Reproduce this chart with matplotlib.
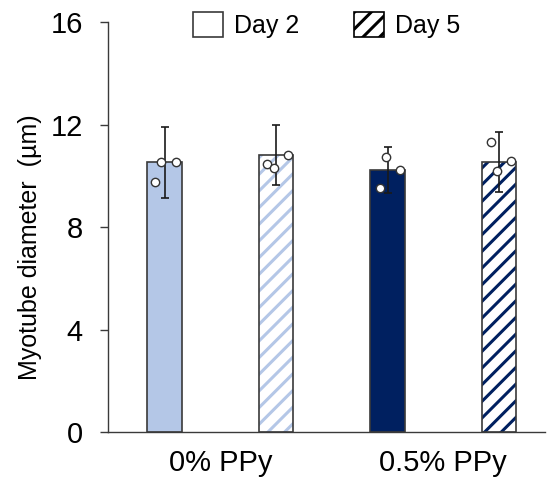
import numpy as np
import matplotlib.pyplot as plt
from matplotlib.patches import Patch

plt.rcParams['font.family'] = ['Liberation Sans', 'DejaVu Sans']
plt.rcParams['hatch.linewidth'] = 2.2

# Values
groups = ['0% PPy', '0.5% PPy']
days = ['Day 2', 'Day 5']
means = [10.53, 10.82, 10.23, 10.55]
sds = [1.39, 1.17, 0.90, 1.17]
points = [[10.54, 10.54, 9.77],
          [10.47, 10.32, 10.82],
          [10.74, 10.21, 9.53],
          [11.30, 10.18, 10.56]]
point_dx = [[-0.03, 0.10, -0.09],
            [-0.08, -0.02, 0.11],
            [-0.01, 0.11, -0.07],
            [-0.07, -0.02, 0.11]]
colors = ['#b4c7e7', '#b4c7e7', '#002060', '#002060']
hatched = [False, True, False, True]

edge = '#3a3a3a'
x = np.arange(len(means))
w = 0.31

fig = plt.figure(figsize=(5.47, 4.8), dpi=100)
ax = fig.add_axes([0.197, 0.1, 0.799, 0.854])

for i in range(len(means)):
    if hatched[i]:
        ax.bar(x[i], means[i], w, color='white', edgecolor=colors[i],
               hatch='//', linewidth=0, zorder=2)
        ax.bar(x[i], means[i], w, fill=False, edgecolor=edge,
               linewidth=1.2, zorder=3)
    else:
        ax.bar(x[i], means[i], w, color=colors[i], edgecolor=edge,
               linewidth=1.2, zorder=2)

ax.errorbar(x, means, yerr=sds, fmt='none', ecolor='#1a1a1a',
            elinewidth=1.2, capsize=2.8, capthick=1.2, zorder=4)

for i in range(len(means)):
    ax.scatter(x[i] + np.array(point_dx[i]), points[i], s=36,
               facecolor='white', edgecolor='#333333', linewidth=1.0,
               zorder=5)

ax.set_xlim(-0.51, 3.41)
ax.set_ylim(0, 16)
ax.set_yticks([0, 4, 8, 12, 16])
ax.set_xticks([0.5, 2.5])
ax.set_xticklabels(groups, fontsize=21)
ax.tick_params(axis='x', length=0, pad=12)
ax.tick_params(axis='y', labelsize=21, length=6, width=1, color=edge,
               direction='out', pad=12)
ax.set_ylabel('Myotube diameter  (\u00b5m)', fontsize=18)
ax.yaxis.set_label_coords(-0.15, 0.45)

for s in ['top', 'right']:
    ax.spines[s].set_visible(False)
for s in ['left', 'bottom']:
    ax.spines[s].set_color(edge)
    ax.spines[s].set_linewidth(1.0)

handles = [Patch(facecolor='white', edgecolor=edge, linewidth=1.2),
           Patch(facecolor='white', edgecolor='black', hatch='//',
                 linewidth=1.2)]
ax.legend(handles, days, ncol=2, frameon=False, fontsize=18,
          loc='center', bbox_to_anchor=(0.597, 0.948),
          bbox_transform=fig.transFigure, handlelength=1.2,
          handleheight=1.2, columnspacing=2.2, handletextpad=0.45)

fig.savefig('out.png', dpi=100)
